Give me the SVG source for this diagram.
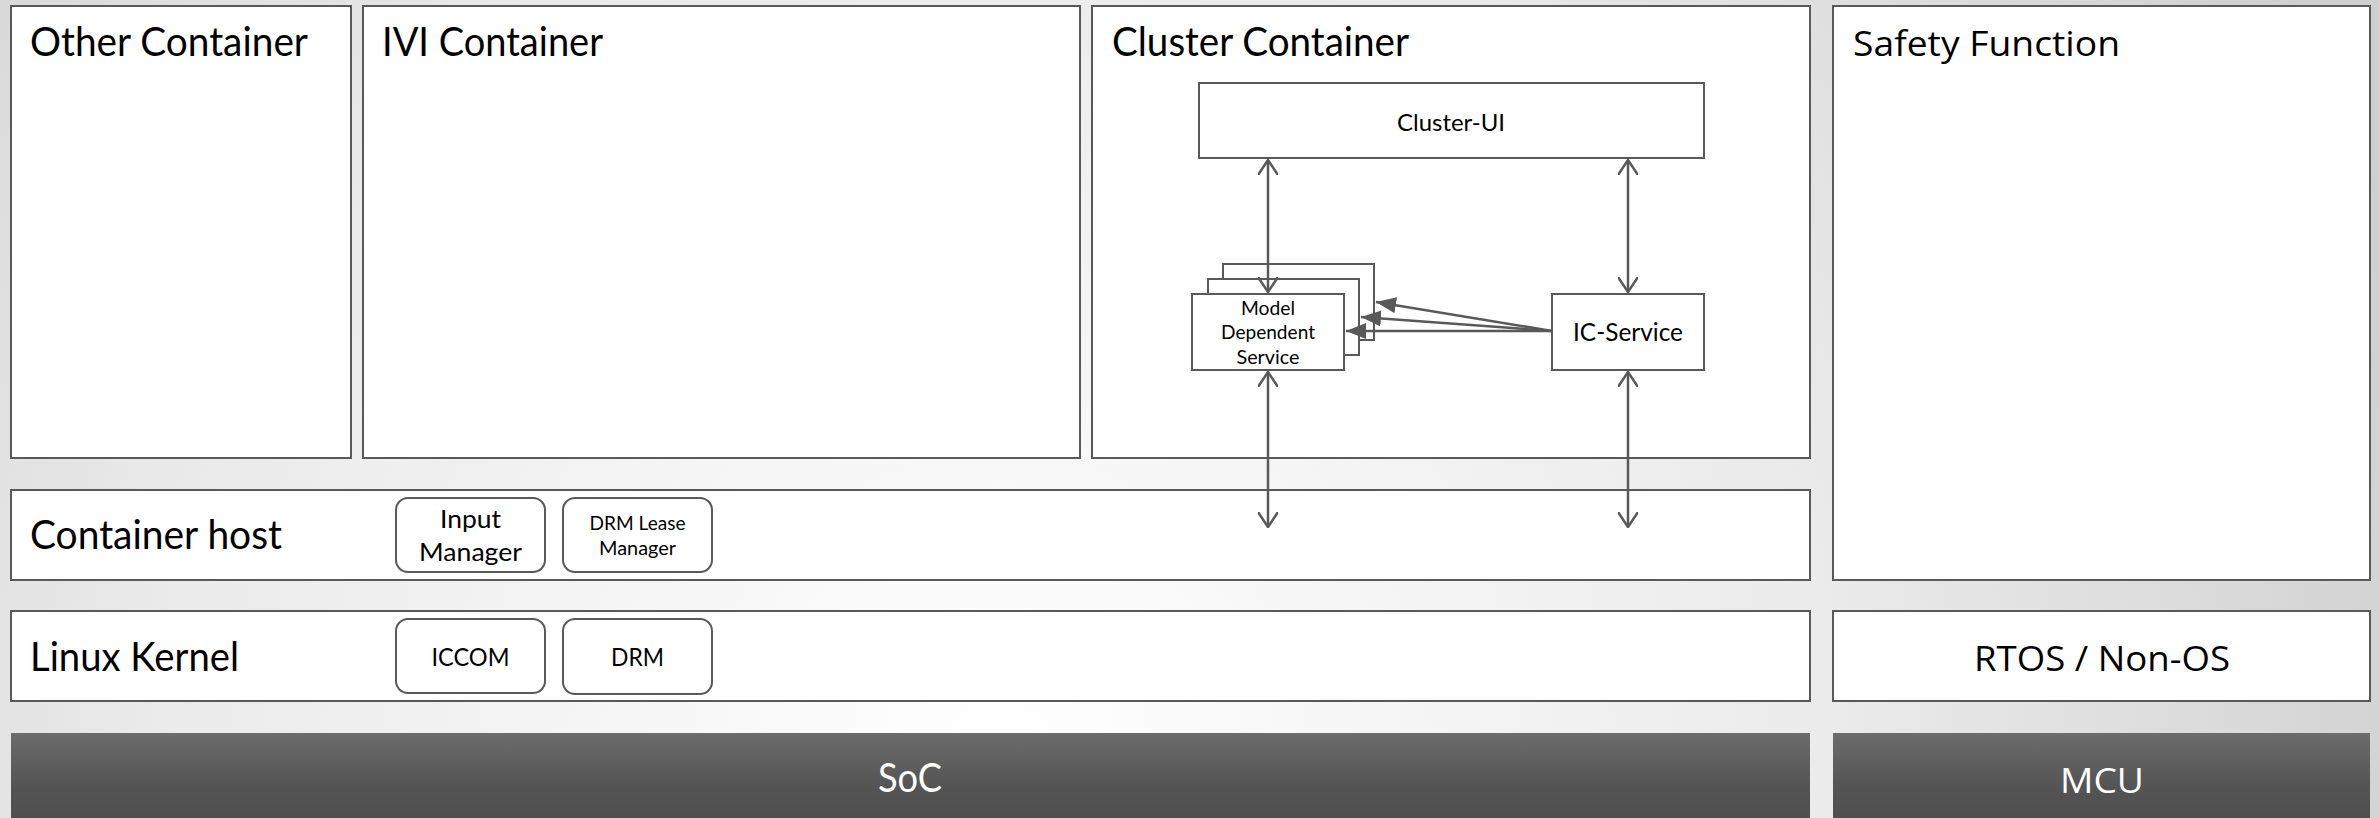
<svg xmlns="http://www.w3.org/2000/svg" width="2379" height="818" viewBox="0 0 2379 818">
<defs>
<radialGradient id="bg" cx="1000" cy="760" r="1500" gradientUnits="userSpaceOnUse">
<stop offset="0" stop-color="#ffffff"/>
<stop offset="0.55" stop-color="#ebebeb"/>
<stop offset="1" stop-color="#cfcfcf"/>
</radialGradient>
<linearGradient id="dark" x1="0" y1="0" x2="0" y2="1">
<stop offset="0" stop-color="#6c6c6c"/>
<stop offset="0.6" stop-color="#545454"/>
<stop offset="1" stop-color="#4e4e4e"/>
</linearGradient>
<marker id="open" viewBox="0 0 16 20" refX="15" refY="10" markerWidth="16" markerHeight="20" markerUnits="userSpaceOnUse" orient="auto-start-reverse">
<path d="M0,0 L15,10 L0,20" fill="none" stroke="#595959" stroke-width="2.5"/>
</marker>
<marker id="tri" viewBox="0 0 20 16" refX="20" refY="8" markerWidth="20" markerHeight="16" markerUnits="userSpaceOnUse" orient="auto">
<path d="M0,0 L20,8 L0,16 z" fill="#595959"/>
</marker>
</defs>
<style>
.box{fill:#ffffff;stroke:#595959;stroke-width:2}
.rbox{fill:#ffffff;stroke:#595959;stroke-width:2}
.bar{fill:url(#dark)}
.cal{font-family:Lato,"Liberation Sans",sans-serif;fill:#000000}
.seg{font-family:"Open Sans","Noto Sans",sans-serif;fill:#000000}
.title{font-size:40px}
.wt{fill:#ffffff}
.mid{text-anchor:middle}
.conn{stroke:#595959;stroke-width:2.5;fill:none}
</style>
<rect x="0" y="0" width="2379" height="818" fill="url(#bg)"/>

<g id="other-container">
<rect class="box" x="11" y="6" width="340" height="452"/>
<text class="cal title" x="30" y="56" textLength="278" lengthAdjust="spacingAndGlyphs">Other Container</text>
</g>
<g id="ivi-container">
<rect class="box" x="363" y="6" width="717" height="452"/>
<text class="cal title" x="382" y="56" textLength="221" lengthAdjust="spacingAndGlyphs">IVI Container</text>
</g>
<g id="cluster-container">
<rect class="box" x="1092" y="6" width="718" height="452"/>
<text class="cal title" x="1112" y="56" textLength="297" lengthAdjust="spacingAndGlyphs">Cluster Container</text>
</g>
<g id="safety-function">
<rect class="box" x="1833" y="6" width="537" height="574"/>
<text class="seg" font-size="34" x="1853" y="56" textLength="267" lengthAdjust="spacingAndGlyphs">Safety Function</text>
</g>
<g id="container-host">
<rect class="box" x="11" y="490" width="1799" height="90"/>
<text class="cal title" x="30" y="549" textLength="252" lengthAdjust="spacingAndGlyphs">Container host</text>
</g>
<g id="linux-kernel">
<rect class="box" x="11" y="611" width="1799" height="90"/>
<text class="cal title" x="30" y="671" textLength="209" lengthAdjust="spacingAndGlyphs">Linux Kernel</text>
</g>
<g id="rtos">
<rect class="box" x="1833" y="611" width="537" height="90"/>
<text class="seg mid" font-size="34" x="2102" y="671" textLength="256" lengthAdjust="spacingAndGlyphs">RTOS / Non-OS</text>
</g>
<g id="soc">
<rect class="bar" x="11" y="733" width="1799" height="90"/>
<text class="cal wt mid" font-size="40" x="910" y="792" textLength="64" lengthAdjust="spacingAndGlyphs">SoC</text>
</g>
<g id="mcu">
<rect class="bar" x="1833" y="733" width="537" height="90"/>
<text class="seg wt mid" font-size="34" x="2102" y="793" textLength="84" lengthAdjust="spacingAndGlyphs">MCU</text>
</g>

<g id="input-manager">
<rect class="rbox" x="396" y="498" width="149" height="74" rx="12"/>
<text class="cal mid" font-size="25" x="470.5" y="528" textLength="61" lengthAdjust="spacingAndGlyphs">Input</text>
<text class="cal mid" font-size="25" x="470.5" y="561" textLength="103" lengthAdjust="spacingAndGlyphs">Manager</text>
</g>
<g id="drm-lease-manager">
<rect class="rbox" x="563" y="498" width="149" height="74" rx="12"/>
<text class="cal mid" font-size="19.5" x="637.5" y="530" textLength="96" lengthAdjust="spacingAndGlyphs">DRM Lease</text>
<text class="cal mid" font-size="19.5" x="637.5" y="555" textLength="77" lengthAdjust="spacingAndGlyphs">Manager</text>
</g>
<g id="iccom">
<rect class="rbox" x="396" y="619" width="149" height="74" rx="12"/>
<text class="cal mid" font-size="25" x="470.5" y="666" textLength="78" lengthAdjust="spacingAndGlyphs">ICCOM</text>
</g>
<g id="drm">
<rect class="rbox" x="563" y="619" width="149" height="75" rx="12"/>
<text class="cal mid" font-size="25" x="637.5" y="666" textLength="53" lengthAdjust="spacingAndGlyphs">DRM</text>
</g>

<g id="cluster-ui">
<rect class="box" x="1199" y="83" width="505" height="75"/>
<text class="cal mid" font-size="24" x="1451" y="131" textLength="108" lengthAdjust="spacingAndGlyphs">Cluster-UI</text>
</g>
<g id="ic-service">
<rect class="box" x="1552" y="294" width="152" height="76"/>
<text class="cal mid" font-size="25" x="1628" y="341" textLength="110" lengthAdjust="spacingAndGlyphs">IC-Service</text>
</g>
<g id="model-dependent-service">
<rect class="box" x="1223" y="264" width="151" height="76"/>
<rect class="box" x="1208" y="279" width="151" height="76"/>
<rect class="box" x="1192" y="294" width="152" height="76"/>
<text class="cal mid" font-size="19" x="1268" y="315" textLength="54" lengthAdjust="spacingAndGlyphs">Model</text>
<text class="cal mid" font-size="19" x="1268" y="339" textLength="94" lengthAdjust="spacingAndGlyphs">Dependent</text>
<text class="cal mid" font-size="19" x="1268" y="364" textLength="63" lengthAdjust="spacingAndGlyphs">Service</text>
</g>

<g id="connectors">
<line class="conn" x1="1268" y1="160" x2="1268" y2="292" marker-start="url(#open)" marker-end="url(#open)"/>
<line class="conn" x1="1628" y1="160" x2="1628" y2="292" marker-start="url(#open)" marker-end="url(#open)"/>
<line class="conn" x1="1268" y1="372" x2="1268" y2="527" marker-start="url(#open)" marker-end="url(#open)"/>
<line class="conn" x1="1628" y1="372" x2="1628" y2="527" marker-start="url(#open)" marker-end="url(#open)"/>
<line class="conn" x1="1552" y1="331" x2="1346" y2="331" marker-end="url(#tri)"/>
<line class="conn" x1="1552" y1="331" x2="1361" y2="317" marker-end="url(#tri)"/>
<line class="conn" x1="1552" y1="331" x2="1376" y2="302" marker-end="url(#tri)"/>
</g>
</svg>
